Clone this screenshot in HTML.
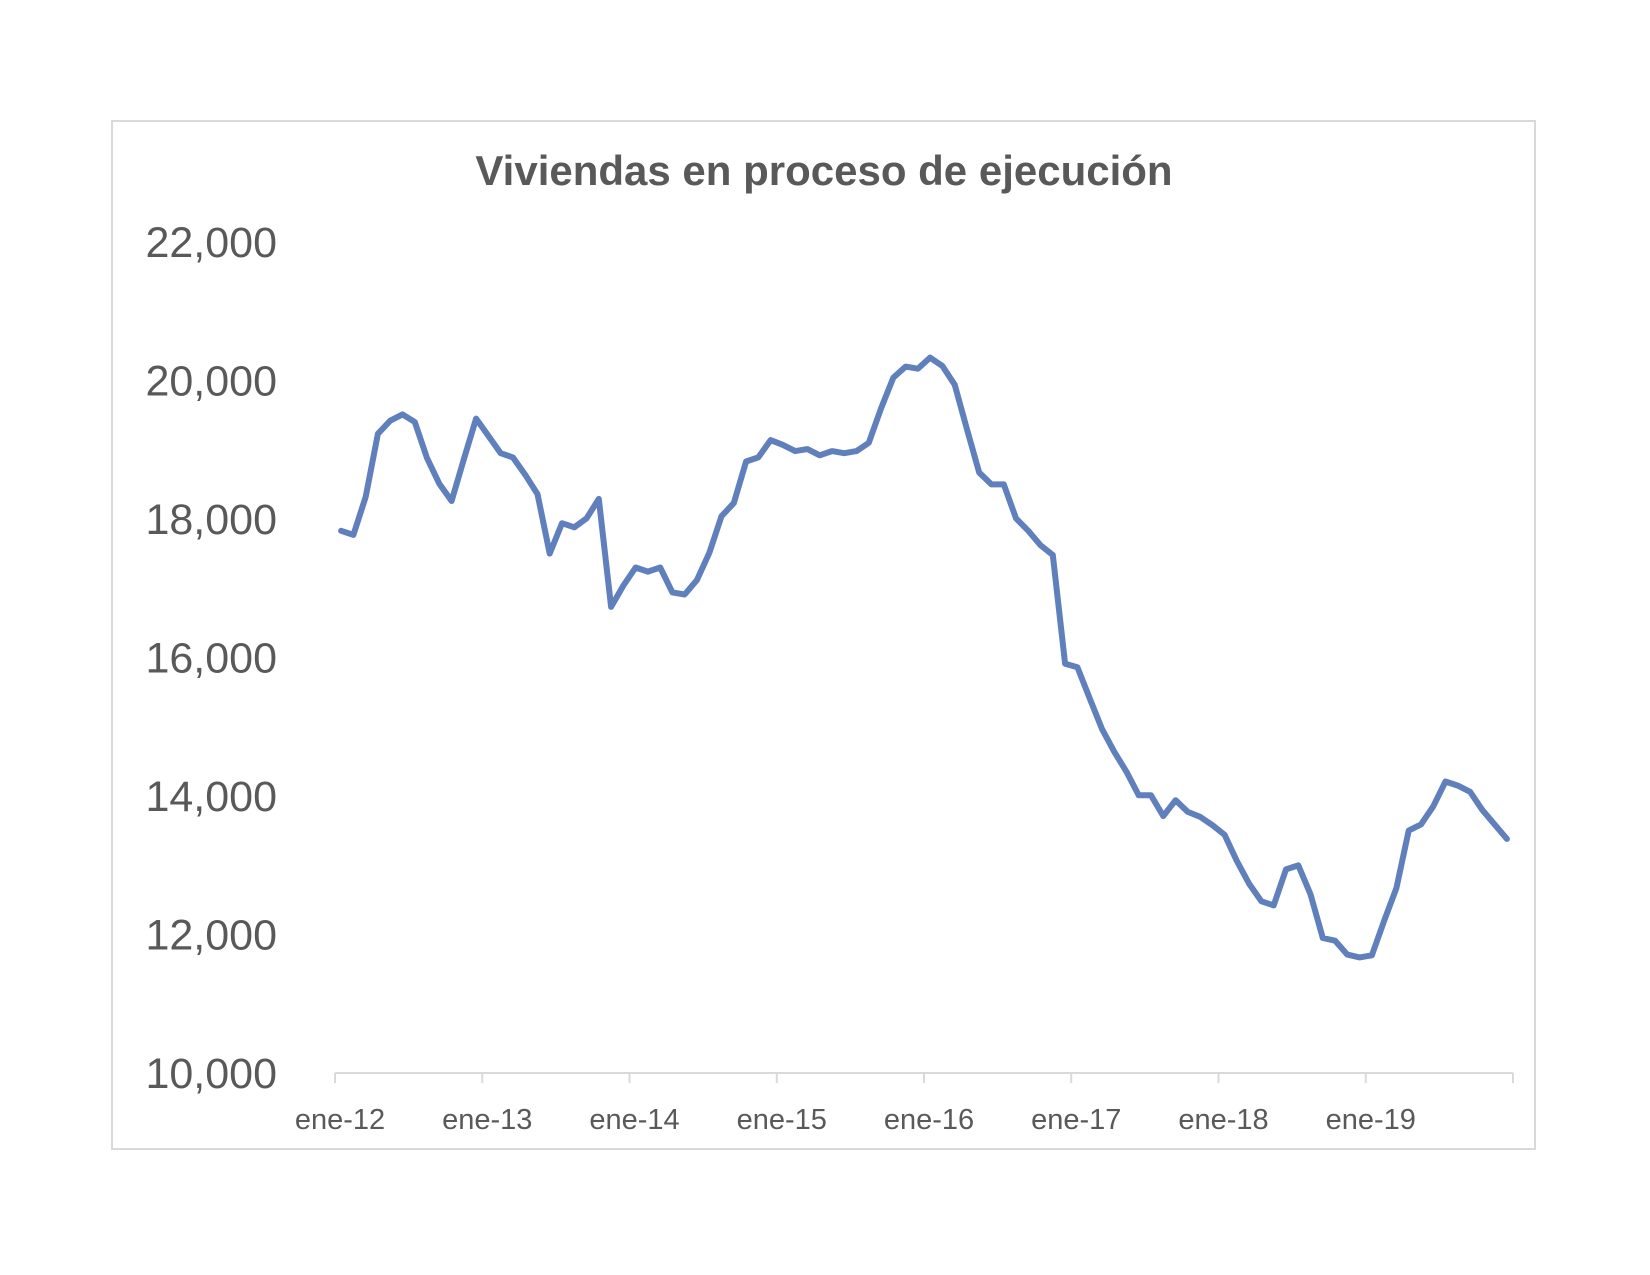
<!DOCTYPE html>
<html><head><meta charset="utf-8"><style>
html,body{margin:0;padding:0;background:#fff;}
svg{display:block;}
</style></head><body>
<svg id="chart" width="1650" height="1275" viewBox="0 0 1650 1275" xmlns="http://www.w3.org/2000/svg">
<rect x="112" y="121" width="1423" height="1028" fill="#fff" stroke="#d9d9d9" stroke-width="2"/>
<text x="824" y="185" text-anchor="middle" font-family="Liberation Sans, sans-serif" font-weight="bold" font-size="42" fill="#595959">Viviendas en proceso de ejecución</text>
<g id="yaxis"></g>
<g id="xaxis"></g>
<g id="series"></g>
</svg>
<script>
const values = [
17830,17770,18320,19230,19420,19510,19400,18880,18510,18260,18860,19450,
19200,18950,18890,18640,18360,17500,17940,17880,18010,18290,16730,17040,
17300,17240,17300,16940,16910,17120,17510,18040,18230,18830,18890,19140,
19070,18980,19010,18920,18980,18950,18980,19100,19600,20040,20200,20170,
20330,20210,19940,19300,18670,18500,18500,18010,17830,17620,17480,15910,
15860,15410,14970,14640,14350,14010,14010,13710,13940,13770,13700,13580,
13440,13060,12730,12480,12420,12940,13000,12580,11950,11910,11710,11670,
11700,12200,12670,13500,13590,13850,14210,14150,14060,13800,13590,13380
];
const yTicks = [10000,12000,14000,16000,18000,20000,22000];
const yTickLabels = ["10,000","12,000","14,000","16,000","18,000","20,000","22,000"];
const xTickLabels = ["ene-12","ene-13","ene-14","ene-15","ene-16","ene-17","ene-18","ene-19"];

const NS="http://www.w3.org/2000/svg";
const X0=335, X1=1513, Y0=1073, Y1=242, YMIN=10000, YMAX=22000;
const nMonths = 96;
function xScale(i){ return X0 + (X1-X0)*i/nMonths; }
function yScale(v){ return Y0 - (Y0-Y1)*(v-YMIN)/(YMAX-YMIN); }
function mk(tag, attrs){ const e=document.createElementNS(NS,tag); for(const k in attrs) e.setAttribute(k,attrs[k]); return e; }

const ya=document.getElementById('yaxis');
yTicks.forEach((t,i)=>{
  const tx=mk('text',{x:277,y:yScale(t)+15,'text-anchor':'end','font-family':'Liberation Sans, sans-serif','font-size':'43',fill:'#595959'});
  
  
  tx.textContent=yTickLabels[i];
  ya.appendChild(tx);
});

const xa=document.getElementById('xaxis');
const axl=mk('line',{x1:X0,y1:Y0,x2:X1,y2:Y0,stroke:'#d9d9d9','stroke-width':2});


xa.appendChild(axl);
for(let k=0;k<=xTickLabels.length;k++){
  const x=xScale(k*12);
  const tk=mk('line',{x1:x,y1:Y0,x2:x,y2:Y0+10,stroke:'#d9d9d9','stroke-width':2});
  
  
  xa.appendChild(tk);
  if(k<xTickLabels.length){
    const tx=mk('text',{x:x+5,y:1129,'text-anchor':'middle','font-family':'Liberation Sans, sans-serif','font-size':'29',fill:'#595959'});
    
    
    tx.textContent=xTickLabels[k];
    xa.appendChild(tx);
  }
}

const sg=document.getElementById('series');
const pts=values.map((v,i)=>xScale(i+0.5).toFixed(1)+','+yScale(v).toFixed(1)).join(' ');
const pl=mk('polyline',{points:pts,fill:'none',stroke:'#5f80bd','stroke-width':6,'stroke-linejoin':'round','stroke-linecap':'round'});


sg.appendChild(pl);
</script>
</body></html>
